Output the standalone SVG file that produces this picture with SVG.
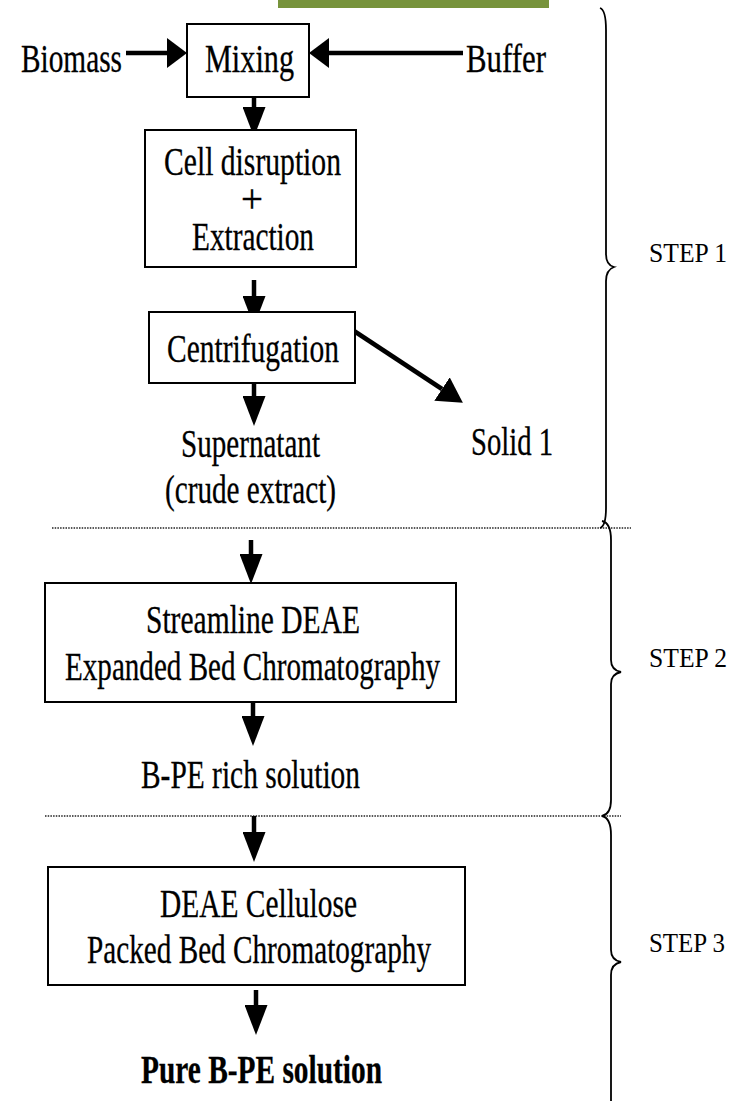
<svg xmlns="http://www.w3.org/2000/svg" width="738" height="1101" viewBox="0 0 738 1101">
<style>
.bx{fill:#fff;stroke:#000;stroke-width:2}
.t{font-family:"Liberation Serif","Times New Roman",serif;font-size:39px;fill:#000;stroke:#000;stroke-width:0.3}
.tb{font-weight:bold}
.st{font-family:"Liberation Serif","Times New Roman",serif;font-size:28px;fill:#000}
.sh{stroke:#000;stroke-width:4.5;fill:none}
.dot{stroke:#222;stroke-width:1.6;stroke-dasharray:1.5 1.2;fill:none}
.br{stroke:#000;stroke-width:1.8;fill:none}
</style>
<defs>
<marker id="av" viewBox="0 0 10 10" refX="0" refY="5" markerUnits="userSpaceOnUse" markerWidth="30" markerHeight="23" orient="auto" preserveAspectRatio="none"><path d="M0,0 L10,5 L0,10 z" fill="#000"/></marker>
<marker id="ah" viewBox="0 0 10 10" refX="0" refY="5" markerUnits="userSpaceOnUse" markerWidth="20" markerHeight="30" orient="auto" preserveAspectRatio="none"><path d="M0,0 L10,5 L0,10 z" fill="#000"/></marker>
<marker id="ad" viewBox="0 0 10 10" refX="0" refY="5" markerUnits="userSpaceOnUse" markerWidth="25" markerHeight="28" orient="auto" preserveAspectRatio="none"><path d="M0,0 L10,5 L0,10 z" fill="#000"/></marker>
</defs>
<rect x="278" y="0" width="271" height="8" fill="#77933C"/>
<g id="separators">
<line class="dot" x1="52" y1="528" x2="631" y2="528"/>
<line class="dot" x1="45" y1="816" x2="621" y2="816"/>
</g>
<g id="braces">
<path class="br" d="M600,8 Q606,10 606,30 L606,254 Q606,265 614,267 Q606,270 606,281 L606,508 Q606,526 600,528"/>
<path class="br" d="M602,521 Q611,523 611,540 L611,660 Q611,670 621,672 Q611,674 611,684 L611,800 Q611,814 602,816"/>
<path class="br" d="M602,816 Q611,818 611,835 L611,950 Q611,960 621,962 Q611,964 611,975 L611,1101"/>
<text class="st" x="649" y="262" textLength="78" lengthAdjust="spacingAndGlyphs">STEP 1</text>
<text class="st" x="649" y="667" textLength="78" lengthAdjust="spacingAndGlyphs">STEP 2</text>
<text class="st" x="649" y="952" textLength="76" lengthAdjust="spacingAndGlyphs">STEP 3</text>
</g>
<g id="connectors">
<line class="sh" x1="126" y1="53" x2="167" y2="53" marker-end="url(#ah)"/>
<line class="sh" x1="463" y1="53" x2="329" y2="53" marker-end="url(#ah)"/>
<line class="sh" x1="254" y1="93" x2="254" y2="107" marker-end="url(#av)"/>
<line class="sh" x1="254" y1="280" x2="254" y2="296" marker-end="url(#av)"/>
<line class="sh" x1="348" y1="327" x2="442" y2="389" marker-end="url(#ad)"/>
<line class="sh" x1="254" y1="380" x2="254" y2="396" marker-end="url(#av)"/>
<line class="sh" x1="251" y1="540" x2="251" y2="554" marker-end="url(#av)"/>
<line class="sh" x1="253" y1="702" x2="253" y2="716" marker-end="url(#av)"/>
<line class="sh" x1="254" y1="816" x2="254" y2="832" marker-end="url(#av)"/>
<line class="sh" x1="256" y1="990" x2="256" y2="1005" marker-end="url(#av)"/>
</g>
<g id="biomass"><text class="t" x="21" y="72" textLength="101" lengthAdjust="spacingAndGlyphs">Biomass</text></g>
<g id="buffer"><text class="t" x="466" y="72" textLength="80" lengthAdjust="spacingAndGlyphs">Buffer</text></g>
<g id="mixing">
<rect class="bx" x="187" y="24" width="122" height="73"/>
<text class="t" x="205" y="72" textLength="89" lengthAdjust="spacingAndGlyphs">Mixing</text>
</g>
<g id="cell-disruption">
<rect class="bx" x="145" y="130" width="211" height="137"/>
<text class="t" x="164" y="175" textLength="177" lengthAdjust="spacingAndGlyphs">Cell disruption</text>
<text class="t" x="252" y="212" text-anchor="middle">+</text>
<text class="t" x="192" y="250" textLength="122" lengthAdjust="spacingAndGlyphs">Extraction</text>
</g>
<g id="centrifugation">
<rect class="bx" x="149" y="312" width="206" height="71"/>
<text class="t" x="167" y="362" textLength="172" lengthAdjust="spacingAndGlyphs">Centrifugation</text>
</g>
<g id="solid1"><text class="t" x="471" y="455" textLength="82" lengthAdjust="spacingAndGlyphs">Solid 1</text></g>
<g id="supernatant">
<text class="t" x="181" y="457" textLength="139" lengthAdjust="spacingAndGlyphs">Supernatant</text>
<text class="t" x="165" y="503" textLength="171" lengthAdjust="spacingAndGlyphs">(crude extract)</text>
</g>
<g id="streamline">
<rect class="bx" x="45" y="583" width="411" height="119"/>
<text class="t" x="146" y="633" textLength="214" lengthAdjust="spacingAndGlyphs">Streamline DEAE</text>
<text class="t" x="65" y="680" textLength="375" lengthAdjust="spacingAndGlyphs">Expanded Bed Chromatography</text>
</g>
<g id="bpe-rich"><text class="t" x="141" y="788" textLength="219" lengthAdjust="spacingAndGlyphs">B-PE rich solution</text></g>
<g id="deae-cellulose">
<rect class="bx" x="48" y="867" width="417" height="118"/>
<text class="t" x="160" y="917" textLength="197" lengthAdjust="spacingAndGlyphs">DEAE Cellulose</text>
<text class="t" x="87" y="963" textLength="344" lengthAdjust="spacingAndGlyphs">Packed Bed Chromatography</text>
</g>
<g id="pure-bpe"><text class="t tb" x="141" y="1083" textLength="241" lengthAdjust="spacingAndGlyphs">Pure B-PE solution</text></g>
</svg>
